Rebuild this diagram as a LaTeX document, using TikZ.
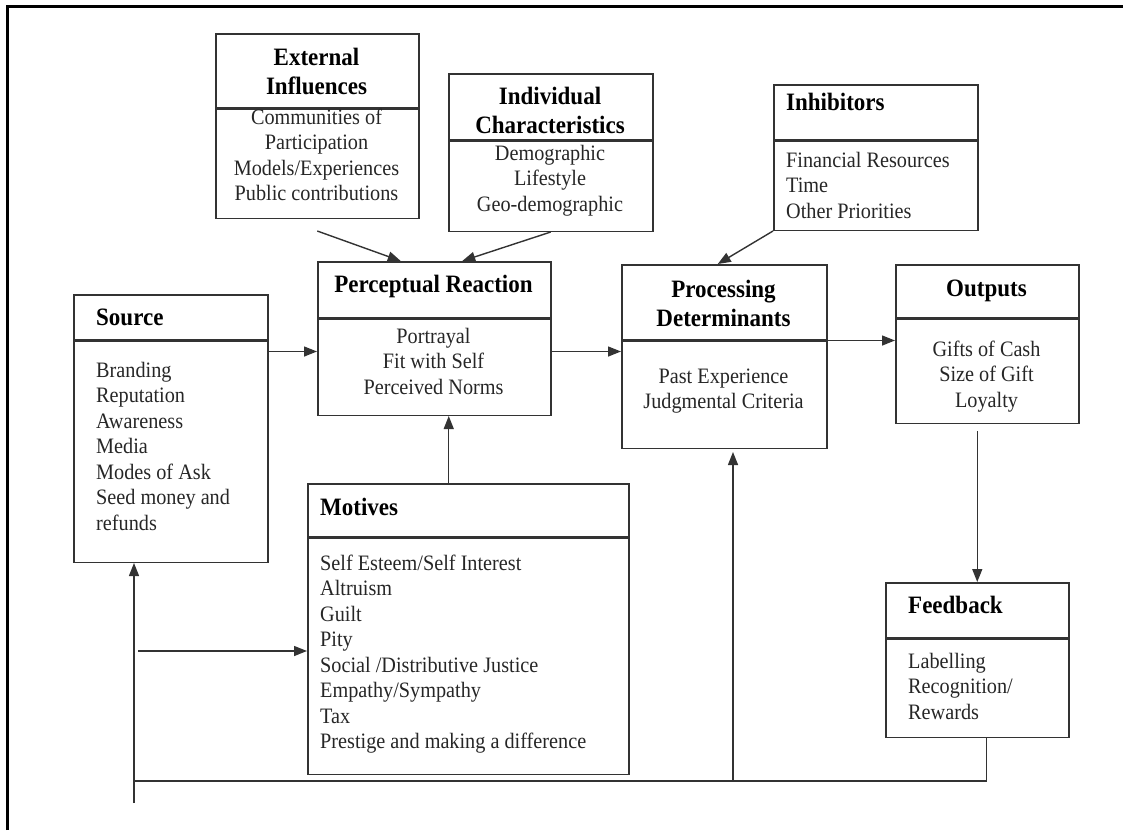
\documentclass[tikz,border=0pt]{standalone}
\usepackage{fontspec}
\setmainfont{Liberation Serif}[FakeStretch=0.92]
\usetikzlibrary{arrows.meta}
\tikzset{
  box/.style={draw=black!80,line width=1.5pt,inner sep=0pt,anchor=north west},
  ttl/.style={font=\fontsize{25}{29}\selectfont\bfseries,inner sep=0pt,text=black},
  lst/.style={font=\fontsize{22}{25.5}\selectfont,inner sep=0pt,text=black!85},
  ln/.style={draw=black!80,line width=1.4pt},
  arr/.style={ln,-{Triangle[length=13pt,width=10pt]}}
}
\begin{document}
\begin{tikzpicture}[x=1pt,y=-1pt]
  \useasboundingbox (0,0) rectangle (1123,830);
  \draw[line width=3pt] (7,830) -- (7,6) -- (1123,6);
  % boxes: title part and list part
  \node[box,minimum width=203pt,minimum height=74pt] (extT) at (215,33) {};
  \node[box,anchor=north,minimum width=203pt,minimum height=109pt] (extB) at (extT.south) {};
  \node[box,minimum width=204pt,minimum height=66pt] (indT) at (448,73) {};
  \node[box,anchor=north,minimum width=204pt,minimum height=90pt] (indB) at (indT.south) {};
  \node[box,minimum width=204pt,minimum height=55pt] (inhT) at (773,84) {};
  \node[box,anchor=north,minimum width=204pt,minimum height=89pt] (inhB) at (inhT.south) {};
  \node[box,minimum width=233pt,minimum height=56pt] (percT) at (317,261) {};
  \node[box,anchor=north,minimum width=233pt,minimum height=96pt] (percB) at (percT.south) {};
  \node[box,minimum width=194pt,minimum height=45pt] (srcT) at (73,294) {};
  \node[box,anchor=north,minimum width=194pt,minimum height=221pt] (srcB) at (srcT.south) {};
  \node[box,minimum width=321pt,minimum height=53pt] (motT) at (307,483) {};
  \node[box,anchor=north,minimum width=321pt,minimum height=236pt] (motB) at (motT.south) {};
  \node[box,minimum width=205pt,minimum height=75pt] (procT) at (621,264) {};
  \node[box,anchor=north,minimum width=205pt,minimum height=107pt] (procB) at (procT.south) {};
  \node[box,minimum width=183pt,minimum height=53pt] (outT) at (895,264) {};
  \node[box,anchor=north,minimum width=183pt,minimum height=104pt] (outB) at (outT.south) {};
  \node[box,minimum width=183pt,minimum height=55pt] (fbT) at (885,582) {};
  \node[box,anchor=north,minimum width=183pt,minimum height=98pt] (fbB) at (fbT.south) {};
  % texts
  \node[ttl,anchor=north,align=center] (extTx) at (316.5,44.7) {\strut External\\Influences};
  \node[lst,anchor=north,align=center] (extLs) at (316.5,106.2) {\strut Communities of\\Participation\\Models/Experiences\\Public contributions};
  \node[ttl,anchor=north,align=center] (indTx) at (550,83.7) {\strut Individual\\Characteristics};
  \node[lst,anchor=north,align=center] (indLs) at (550,142.2) {\strut Demographic\\Lifestyle\\Geo-demographic};
  \node[ttl,anchor=base west] (inhTx) at (786,110) {Inhibitors};
  \node[lst,anchor=north west,align=left] (inhLs) at (786,149.2) {\strut Financial Resources\\Time\\Other Priorities};
  \node[ttl,anchor=base] (percTx) at (433.5,292) {Perceptual Reaction};
  \node[lst,anchor=north,align=center] (percLs) at (433.5,325.2) {\strut Portrayal\\Fit with Self\\Perceived Norms};
  \node[ttl,anchor=base west] (srcTx) at (96,325) {Source};
  \node[lst,anchor=north west,align=left] (srcLs) at (96,359.2) {\strut Branding\\Reputation\\Awareness\\Media\\Modes of Ask\\Seed money and\\refunds};
  \node[ttl,anchor=base west] (motTx) at (320,515) {Motives};
  \node[lst,anchor=north west,align=left] (motLs) at (320,552.2) {\strut Self Esteem/Self Interest\\Altruism\\Guilt\\Pity\\Social /Distributive Justice\\Empathy/Sympathy\\Tax\\Prestige and making a difference};
  \node[ttl,anchor=north,align=center] (procTx) at (723.5,276.7) {\strut Processing\\Determinants};
  \node[lst,anchor=north,align=center] (procLs) at (723.5,365.2) {\strut Past Experience\\Judgmental Criteria};
  \node[ttl,anchor=base] (outTx) at (986.5,296) {Outputs};
  \node[lst,anchor=north,align=center] (outLs) at (986.5,338.2) {\strut Gifts of Cash\\Size of Gift\\Loyalty};
  \node[ttl,anchor=base west] (fbTx) at (908,613) {Feedback};
  \node[lst,anchor=north west,align=left] (fbLs) at (908,650.2) {\strut Labelling\\Recognition/\\Rewards};
  % connectors
  \draw[arr] ([yshift=-12pt]extB.south) -- ([xshift=-33.5pt]percT.north);
  \draw[arr] (indB.south) -- ([xshift=28pt]percT.north);
  \draw[arr] (inhB.south west) -- ([xshift=-6.5pt]procT.north);
  \coordinate (srcOut) at ([yshift=-11pt]srcB.north east);
  \draw[arr] (srcOut) -- (srcOut -| percB.west);
  \coordinate (percOut) at ([yshift=-33pt]percB.north east);
  \draw[arr] (percOut) -- (percOut -| procB.west);
  \draw[arr] (procB.north east) -- (procB.north east -| outB.west);
  \coordinate (motUp) at ([xshift=-19.5pt]motT.north);
  \draw[arr] (motUp) -- (motUp |- percB.south);
  \coordinate (outDown) at ([yshift=-7pt]outB.south);
  \draw[arr] (outDown -| fbT.north) -- (fbT.north);
  % feedback loop
  \coordinate (fbOut) at ([xshift=9.5pt]fbB.south);
  \coordinate (loopL) at (134,781);
  \coordinate (tail) at (134,803);
  \draw[ln] (fbOut) |- (loopL);
  \draw[arr] (tail) -- (tail |- srcB.south);
  \coordinate (procUp) at (733,781);
  \draw[arr,shorten >=3pt] (procUp) -- (procUp |- procB.south);
  \coordinate (motIn) at (138,651);
  \draw[arr] (motIn) -- (motIn -| motB.west);
\end{tikzpicture}
\end{document}
